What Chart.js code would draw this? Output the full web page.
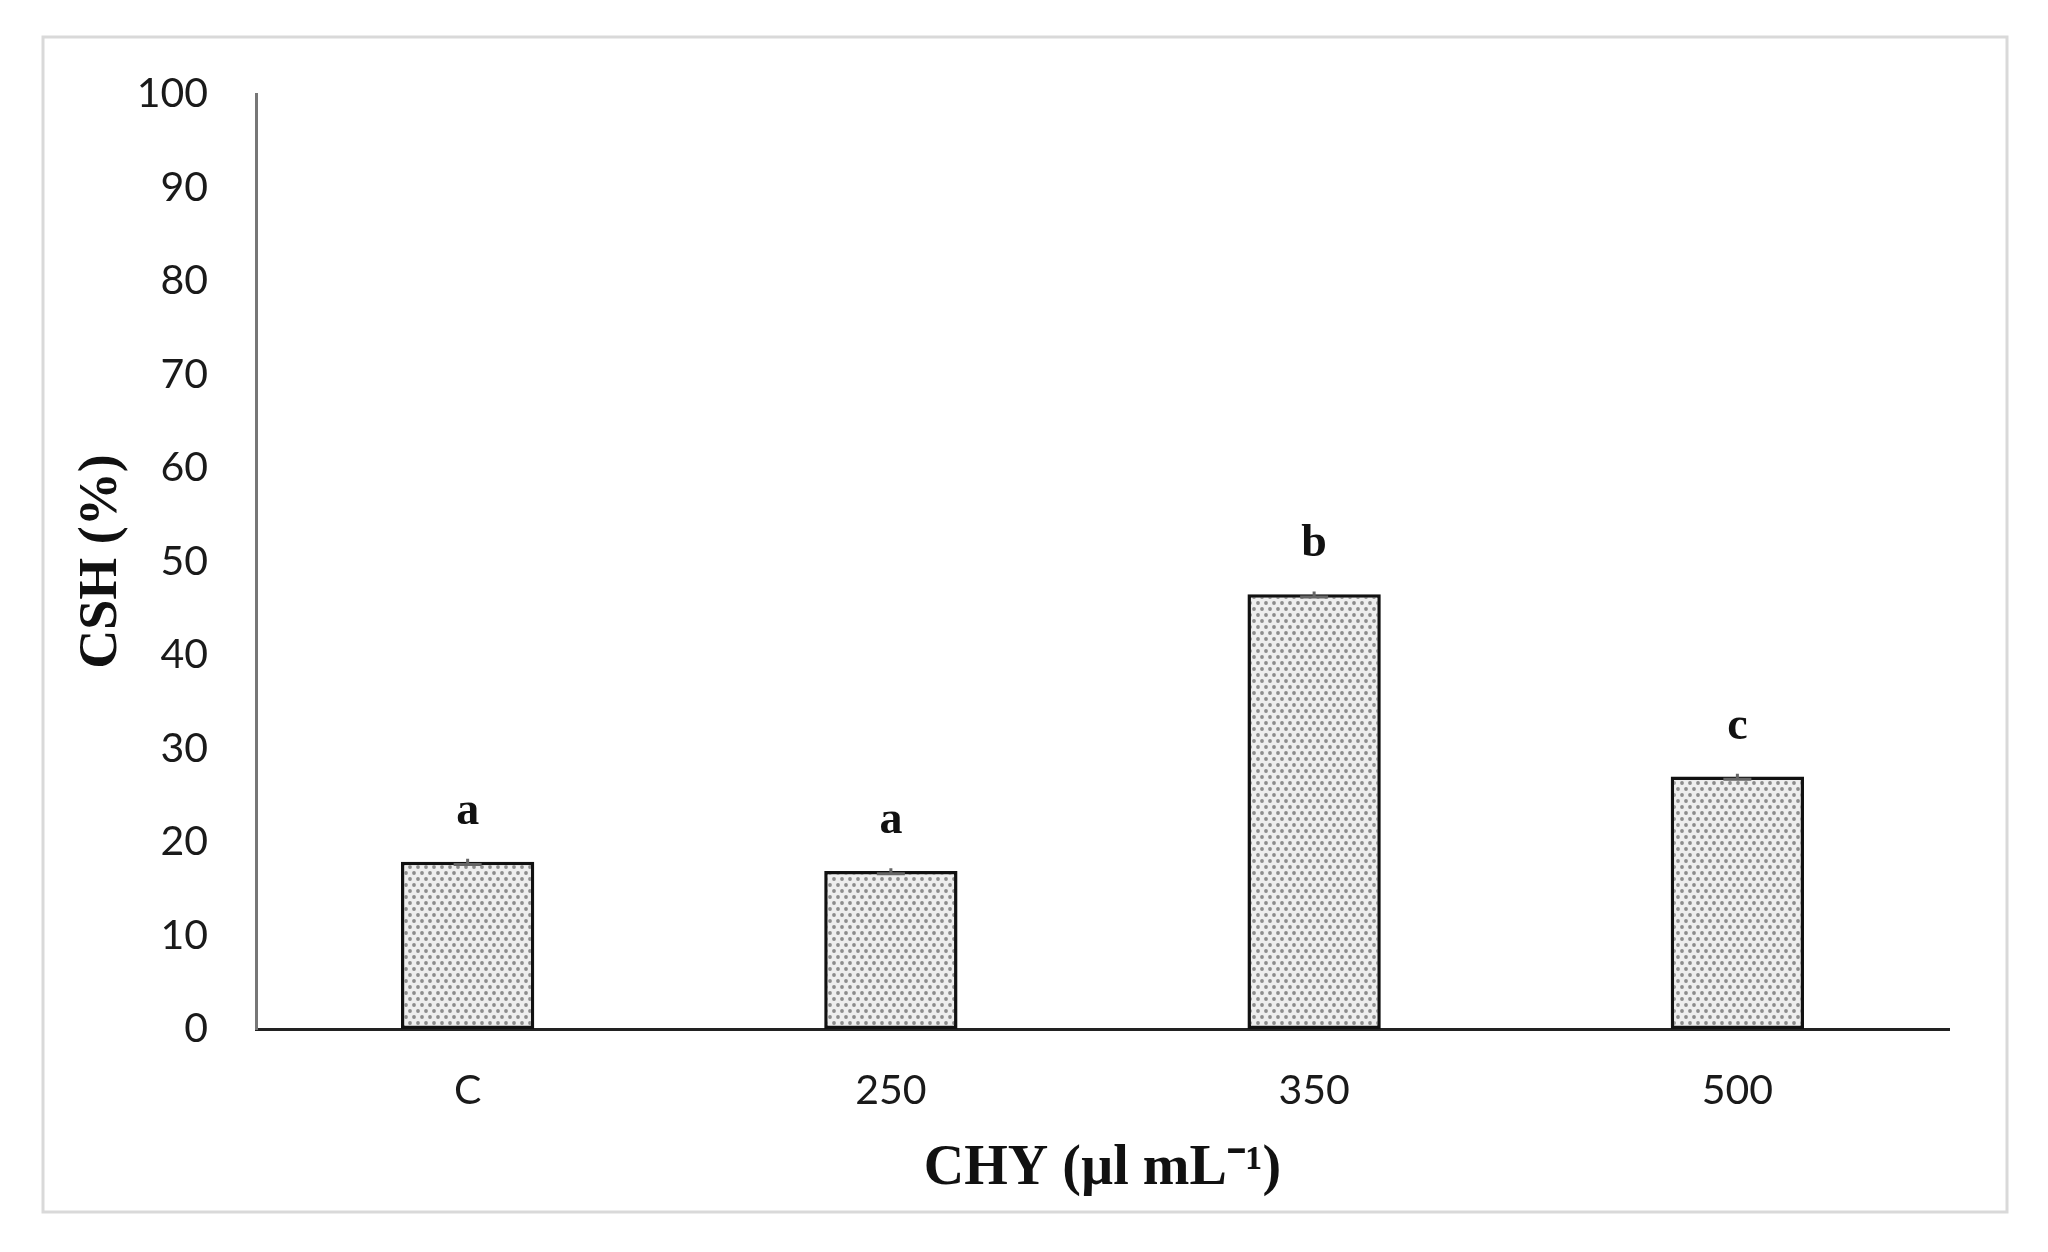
<!DOCTYPE html>
<html lang="en">

<head>
    <meta charset="UTF-8">
    <title>CSH vs CHY</title>
    <script src="https://cdn.jsdelivr.net/npm/chart.js"></script>
    <style>
        html, body { margin: 0; padding: 0; background: #fff; }
        #wrap { width: 2048px; height: 1252px; position: relative; }
    </style>
</head>

<body>
    <div id="wrap">
        <canvas id="bar-chart"></canvas>
    </div>

    <script>
        // data
        var categories = ['C', '250', '350', '500'];
        var cshValues = [17.9, 16.9, 46.5, 27.0];
        var cshErrors = [0.3, 0.3, 0.3, 0.3];
        var letters = ['a', 'a', 'b', 'c'];
        var yTicks = [0, 10, 20, 30, 40, 50, 60, 70, 80, 90, 100];

        // dotted fill like the original
        function dotPattern() {
            var c = document.createElement('canvas');
            c.width = 8; c.height = 12;
            var g = c.getContext('2d');
            g.fillStyle = '#eeeeee';
            g.fillRect(0, 0, 8, 12);
            g.fillStyle = '#8c8c8c';
            g.beginPath(); g.arc(2, 3, 1.9, 0, Math.PI * 2); g.fill();
            g.beginPath(); g.arc(6, 9, 1.9, 0, Math.PI * 2); g.fill();
            return g.createPattern(c, 'repeat');
        }

        // outer frame, error caps and significance letters
        var extras = {
            id: 'extras',
            beforeDraw: function (chart) {
                var ctx = chart.ctx;
                ctx.save();
                ctx.strokeStyle = '#d9d9d9';
                ctx.lineWidth = 3;
                ctx.strokeRect(43, 37, 1964, 1175);
                ctx.restore();
            },
            afterDatasetsDraw: function (chart) {
                var ctx = chart.ctx;
                var meta = chart.getDatasetMeta(0);
                var y = chart.scales.y;
                ctx.save();
                meta.data.forEach(function (bar, i) {
                    // tiny error bar, mostly hidden by the bar edge
                    var hi = y.getPixelForValue(cshValues[i] + cshErrors[i]);
                    var lo = y.getPixelForValue(cshValues[i] - cshErrors[i]);
                    ctx.strokeStyle = '#666';
                    ctx.lineWidth = 3;
                    ctx.beginPath();
                    ctx.moveTo(bar.x - 14, lo); ctx.lineTo(bar.x + 14, lo);
                    ctx.moveTo(bar.x, hi); ctx.lineTo(bar.x, lo);
                    ctx.stroke();

                    ctx.fillStyle = '#111';
                    ctx.font = 'bold 46px "Liberation Serif"';
                    ctx.textAlign = 'center';
                    ctx.textBaseline = 'alphabetic';
                    ctx.fillText(letters[i], bar.x, bar.y - 38);
                });
                ctx.restore();
            }
        };

        var ctx = document.getElementById('bar-chart').getContext('2d');
        var chart = new Chart(ctx, {
            type: 'bar',
            data: {
                labels: categories,
                datasets: [{
                    label: 'CSH',
                    data: cshValues,
                    backgroundColor: dotPattern(),
                    borderColor: '#111',
                    borderWidth: 3.5,
                    borderSkipped: false,
                    categoryPercentage: 1,
                    barPercentage: 0.315
                }]
            },
            options: {
                responsive: true,
                maintainAspectRatio: false,
                devicePixelRatio: 1,
                animation: false,
                layout: { padding: { top: 94, right: 99, bottom: 0, left: 0 } },
                plugins: {
                    legend: { display: false },
                    tooltip: { enabled: false }
                },
                scales: {
                    x: {
                        grid: { display: false, drawTicks: false },
                        border: { color: '#222', width: 3 },
                        ticks: {
                            color: '#1a1a1a',
                            padding: 37,
                            font: { family: 'Lato', size: 41 }
                        },
                        title: {
                            display: true,
                            text: 'CHY (\u00b5l mL\u207b\u00b9)',
                            color: '#111',
                            font: { family: 'Liberation Serif', size: 56, weight: 'bold' },
                            padding: { top: 0, bottom: 49 }
                        },
                        afterFit: function (s) { s.height = 223; }
                    },
                    y: {
                        min: 0,
                        max: 100,
                        afterBuildTicks: function (s) {
                            s.ticks = yTicks.map(function (v) { return { value: v }; });
                        },
                        grid: { display: false, drawTicks: false },
                        border: { color: '#777', width: 3 },
                        ticks: {
                            color: '#1a1a1a',
                            padding: 48,
                            font: { family: 'Lato', size: 41 }
                        },
                        title: {
                            display: true,
                            text: 'CSH (%)',
                            color: '#111',
                            font: { family: 'Liberation Serif', size: 54, weight: 'bold' },
                            padding: { top: 70, bottom: 0 }
                        },
                        afterFit: function (s) { s.width = 256; }
                    }
                }
            },
            plugins: [extras]
        });
    </script>
</body>

</html>
